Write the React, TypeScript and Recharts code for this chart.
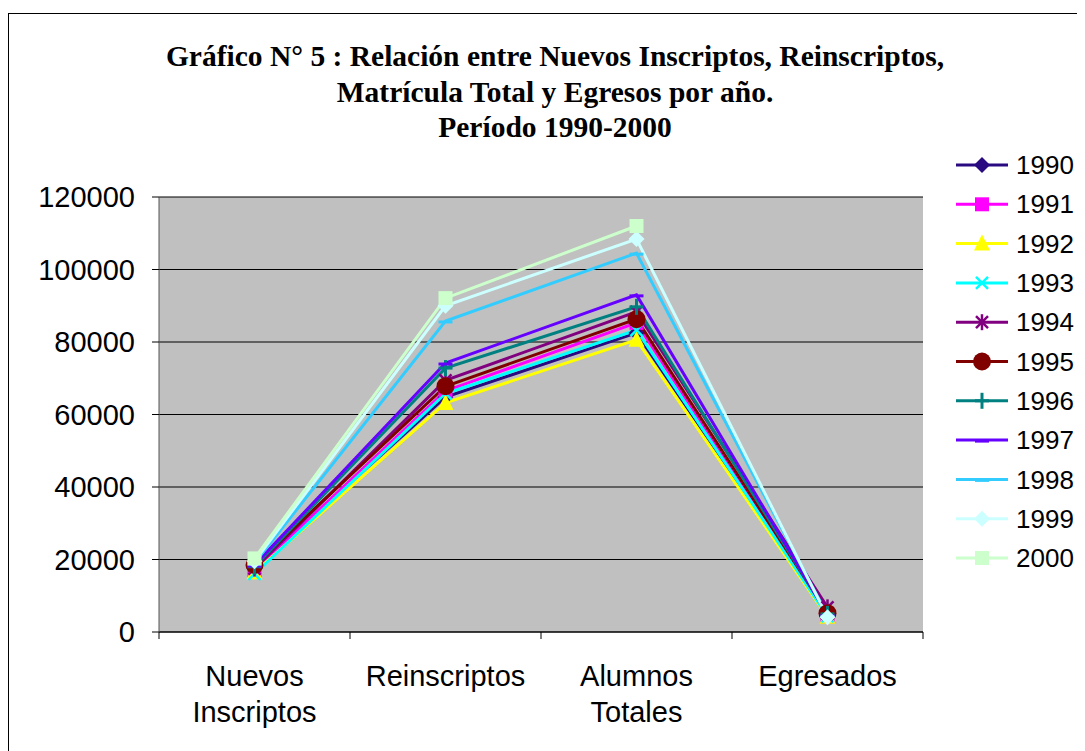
import React from "react";
import { LineChart, Line, XAxis, YAxis, CartesianGrid } from "recharts";

const categories = ["Nuevos Inscriptos", "Reinscriptos", "Alumnos Totales", "Egresados"];
const categoryLines = [["Nuevos", "Inscriptos"], ["Reinscriptos"], ["Alumnos", "Totales"], ["Egresados"]];
const yTicks = [0, 20000, 40000, 60000, 80000, 100000, 120000];

// 2000 has no Egresados value in the source
const y1990 = [17500, 64800, 82500, 4500];
const y1991 = [17000, 66500, 85300, 4300];
const y1992 = [16500, 63200, 80600, 4200];
const y1993 = [16000, 65800, 83300, 4400];
const y1994 = [17500, 69400, 88300, 6800];
const y1995 = [18500, 67800, 86300, 5200];
const y1996 = [18000, 72800, 89700, 5000];
const y1997 = [18500, 74200, 93000, 4800];
const y1998 = [19000, 85800, 104500, 4600];
const y1999 = [19500, 90000, 108400, 4100];
const y2000 = [20300, 92100, 112000, null];

type Shape = "diamond" | "square" | "triangle" | "x" | "star" | "circle" | "plus" | "dash";

const series: { name: string; values: (number | null)[]; color: string; shape: Shape }[] = [
  { name: "1990", values: y1990, color: "#2a0a80", shape: "diamond" },
  { name: "1991", values: y1991, color: "#ff00ff", shape: "square" },
  { name: "1992", values: y1992, color: "#ffff00", shape: "triangle" },
  { name: "1993", values: y1993, color: "#00ffff", shape: "x" },
  { name: "1994", values: y1994, color: "#800080", shape: "star" },
  { name: "1995", values: y1995, color: "#800000", shape: "circle" },
  { name: "1996", values: y1996, color: "#008080", shape: "plus" },
  { name: "1997", values: y1997, color: "#6600ff", shape: "dash" },
  { name: "1998", values: y1998, color: "#33ccff", shape: "dash" },
  { name: "1999", values: y1999, color: "#ccffff", shape: "diamond" },
  { name: "2000", values: y2000, color: "#ccffcc", shape: "square" },
];

const data = categories.map((c, i) => {
  const row: Record<string, number | string | null> = { cat: c };
  series.forEach((s) => (row[s.name] = s.values[i]));
  return row;
});

const SANS = '"Liberation Sans", Arial, sans-serif';
const HALF_BAND = 95.5;

function Marker({ cx, cy, shape, color }: { cx: number; cy: number; shape: Shape; color: string }) {
  switch (shape) {
    case "diamond":
      return <polygon points={`${cx},${cy - 8} ${cx + 8},${cy} ${cx},${cy + 8} ${cx - 8},${cy}`} fill={color} />;
    case "square":
      return <rect x={cx - 7} y={cy - 7} width={14} height={14} fill={color} />;
    case "triangle":
      return <polygon points={`${cx},${cy - 9} ${cx + 8},${cy + 7} ${cx - 8},${cy + 7}`} fill={color} />;
    case "x":
      return (
        <g stroke={color} strokeWidth={2.5}>
          <line x1={cx - 6} y1={cy - 6} x2={cx + 6} y2={cy + 6} />
          <line x1={cx - 6} y1={cy + 6} x2={cx + 6} y2={cy - 6} />
        </g>
      );
    case "star":
      return (
        <g stroke={color} strokeWidth={2.5}>
          <line x1={cx - 6} y1={cy - 6} x2={cx + 6} y2={cy + 6} />
          <line x1={cx - 6} y1={cy + 6} x2={cx + 6} y2={cy - 6} />
          <line x1={cx} y1={cy - 8} x2={cx} y2={cy + 8} />
        </g>
      );
    case "circle":
      return <circle cx={cx} cy={cy} r={9} fill={color} />;
    case "plus":
      return (
        <g stroke={color} strokeWidth={3}>
          <line x1={cx} y1={cy - 8} x2={cx} y2={cy + 8} />
          <line x1={cx - 7} y1={cy} x2={cx + 7} y2={cy} />
        </g>
      );
    default:
      return <line x1={cx - 7} y1={cy + 1} x2={cx + 7} y2={cy + 1} stroke={color} strokeWidth={3} />;
  }
}

function CategoryTick(props: any) {
  const { x, y, index } = props;
  const lines = categoryLines[index] || [];
  return (
    <g>
      <line x1={x - HALF_BAND} y1={y} x2={x - HALF_BAND} y2={y + 7} stroke="#000" />
      {index === categories.length - 1 && (
        <line x1={x + HALF_BAND} y1={y} x2={x + HALF_BAND} y2={y + 7} stroke="#000" />
      )}
      {lines.map((t: string, i: number) => (
        <text key={i} x={x} y={y + 44 + i * 36} dy="0.35em" textAnchor="middle" fontSize={29} fontFamily={SANS} fill="#000">
          {t}
        </text>
      ))}
    </g>
  );
}

export default function App() {
  return (
    <div style={{ position: "relative", marginTop: 5, width: 1075, height: 745, border: "1px solid #000", background: "#fff" }}>
      <style>{"html { overflow: hidden; }"}</style>
      <div
        style={{
          position: "absolute",
          left: 46,
          top: 25,
          width: 1000,
          textAlign: "center",
          fontFamily: '"Liberation Serif", "Times New Roman", serif',
          fontWeight: "bold",
          fontSize: 29.5,
          lineHeight: "35.5px",
        }}
      >
        Gráfico N° 5 : Relación entre Nuevos Inscriptos, Reinscriptos,
        <br />
        Matrícula Total y Egresos por año.
        <br />
        Período 1990-2000
      </div>
      <LineChart
        width={1068}
        height={736}
        data={data}
        margin={{ top: 183, right: 154, bottom: 18, left: 0 }}
        style={{ position: "absolute", left: 0, top: 0 }}
      >
        <CartesianGrid vertical={false} stroke="#000" fill="#c0c0c0" />
        <XAxis
          dataKey="cat"
          height={100}
          padding={{ left: HALF_BAND, right: HALF_BAND }}
          tickLine={false}
          tickSize={0}
          tickMargin={0}
          axisLine={{ stroke: "#000" }}
          tick={<CategoryTick />}
          interval={0}
        />
        <YAxis
          width={150}
          domain={[0, 120000]}
          ticks={yTicks}
          interval={0}
          tickSize={7}
          tickMargin={17}
          axisLine={{ stroke: "#555" }}
          tickLine={{ stroke: "#000" }}
          tick={{ fontSize: 29, fontFamily: SANS, fill: "#000" }}
        />
        {series.map((s) => (
          <Line
            key={s.name}
            dataKey={s.name}
            stroke={s.color}
            strokeWidth={3}
            type="linear"
            isAnimationActive={false}
            activeDot={false}
            dot={(p: any) =>
              p.value == null || p.cy == null ? (
                <g key={`${s.name}-${p.index}`} />
              ) : (
                <Marker key={`${s.name}-${p.index}`} cx={p.cx} cy={p.cy} shape={s.shape} color={s.color} />
              )
            }
          />
        ))}
      </LineChart>
      <svg style={{ position: "absolute", left: 0, top: 0 }} width={1068} height={600}>
        {series.map((s, i) => {
          const cy = 151 + i * 39.3;
          return (
            <g key={s.name}>
              <line x1={947} y1={cy} x2={999} y2={cy} stroke={s.color} strokeWidth={3} />
              <Marker cx={973} cy={cy} shape={s.shape} color={s.color} />
              <text x={1007} y={cy} dy="0.35em" fontSize={26} fontFamily={SANS} fill="#000">
                {s.name}
              </text>
            </g>
          );
        })}
      </svg>
    </div>
  );
}
